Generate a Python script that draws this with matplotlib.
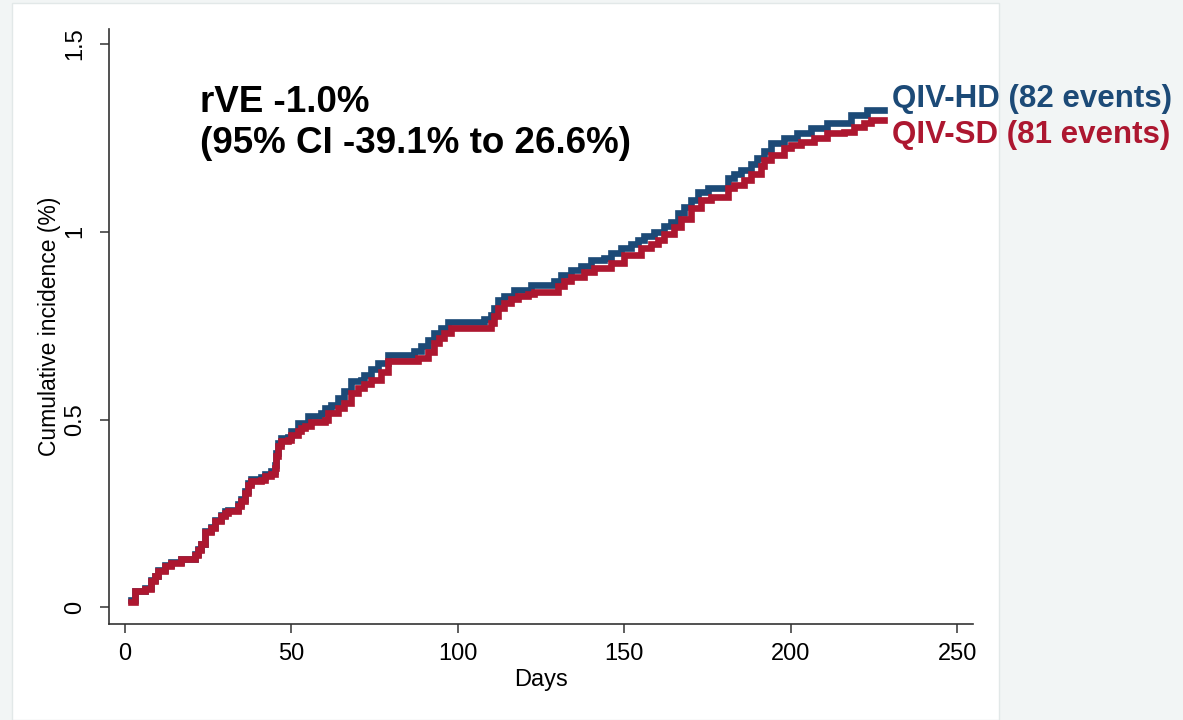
import matplotlib
matplotlib.use("Agg")
from matplotlib import pyplot as plt
from matplotlib.patches import Rectangle

plt.rcParams['font.family'] = ['Liberation Sans', 'DejaVu Sans']

# Cumulative incidence (%), step points per arm
hd_days = [2, 3, 6, 8, 9, 10, 12, 14, 17, 21, 22, 23, 24, 26, 27, 29, 30, 31, 34, 35,
           36, 37, 38, 41, 42, 44, 45, 45.5, 46, 47, 49, 50, 52, 55, 59, 60, 62, 64, 66, 68,
           71, 72, 74, 76, 79, 87, 89, 91, 93, 95, 97, 108, 110, 111, 112, 114, 117, 122, 129, 131,
           134, 137, 140, 144, 146, 149, 152, 154, 156, 159, 162, 164, 166, 168, 170, 172, 175, 181, 183, 185,
           188, 190, 192, 194, 198, 202, 206, 211, 218, 223, 228]
hd_vals = [0.020, 0.045, 0.052, 0.072, 0.085, 0.100, 0.112, 0.121, 0.130, 0.143,
           0.156, 0.170, 0.203, 0.215, 0.233, 0.246, 0.256, 0.260, 0.275, 0.288,
           0.310, 0.332, 0.342, 0.347, 0.356, 0.362, 0.380, 0.410, 0.437, 0.450,
           0.455, 0.470, 0.491, 0.509, 0.518, 0.531, 0.540, 0.557, 0.575, 0.602,
           0.606, 0.620, 0.635, 0.651, 0.673, 0.684, 0.695, 0.712, 0.730, 0.745,
           0.761, 0.768, 0.779, 0.797, 0.819, 0.828, 0.846, 0.859, 0.870, 0.885,
           0.899, 0.910, 0.925, 0.930, 0.943, 0.957, 0.968, 0.979, 0.990, 1.000,
           1.015, 1.027, 1.050, 1.065, 1.085, 1.107, 1.116, 1.143, 1.155, 1.165,
           1.180, 1.196, 1.215, 1.236, 1.249, 1.262, 1.276, 1.289, 1.310, 1.324,
           1.324]

sd_days = [2, 3, 6, 8, 9, 10, 12, 14, 17, 21, 22, 23, 24, 26, 27, 29, 30, 31, 34, 35,
           36, 37, 38, 41, 42, 44, 45, 45.5, 46, 47, 49, 50, 52, 53, 54, 56, 60, 61, 64, 66,
           68, 70, 72, 74, 77, 79, 88, 91, 93, 94.5, 96, 98, 110, 111, 112, 114, 116, 118, 121, 123,
           130, 132, 134, 138, 141, 146, 150, 155, 158, 160, 162, 165, 167, 170, 173, 176, 181, 183, 186, 188,
           191, 192, 194, 198, 200, 203, 207, 211, 216, 219, 222, 224, 228]
sd_vals = [0.015, 0.043, 0.050, 0.070, 0.083, 0.097, 0.110, 0.119, 0.128, 0.141,
           0.154, 0.168, 0.200, 0.212, 0.230, 0.243, 0.252, 0.256, 0.270, 0.283,
           0.305, 0.327, 0.336, 0.340, 0.349, 0.354, 0.372, 0.402, 0.429, 0.442,
           0.447, 0.460, 0.469, 0.478, 0.482, 0.495, 0.500, 0.518, 0.531, 0.544,
           0.571, 0.584, 0.595, 0.606, 0.628, 0.655, 0.664, 0.680, 0.703, 0.717,
           0.730, 0.744, 0.757, 0.775, 0.797, 0.810, 0.820, 0.828, 0.835, 0.841,
           0.855, 0.868, 0.881, 0.893, 0.904, 0.917, 0.939, 0.957, 0.968, 0.979,
           0.995, 1.014, 1.035, 1.064, 1.085, 1.094, 1.116, 1.125, 1.138, 1.155,
           1.174, 1.190, 1.205, 1.223, 1.230, 1.240, 1.249, 1.262, 1.267, 1.280,
           1.289, 1.298, 1.298]

hd_label = "QIV-HD (82 events)"
sd_label = "QIV-SD (81 events)"
rve_lines = ["rVE -1.0%", "(95% CI -39.1% to 26.6%)"]
x_ticks = [0, 50, 100, 150, 200, 250]
y_ticks = [0, 0.5, 1, 1.5]

blue = '#1c4a77'
red = '#ad1730'

fig = plt.figure(figsize=(11.83, 7.2), dpi=100, facecolor='#f2f5f5')
# white plot region like the original screenshot
fig.patches.append(Rectangle((12 / 1183, 0), 987 / 1183, 717 / 720, transform=fig.transFigure,
                             facecolor='white', edgecolor='#e2e8e8', lw=1, zorder=-10))

ax = fig.add_axes([109 / 1183, 1 - 624 / 720, 864 / 1183, 595 / 720])
ax.set_facecolor('none')

ax.plot(hd_days, hd_vals, drawstyle='steps-post', color=blue, lw=4.8, solid_joinstyle='miter')
ax.plot(sd_days, sd_vals, drawstyle='steps-post', color=red, lw=4.8, solid_joinstyle='miter')

ax.set_xlim(-4.7, 254.7)
ax.set_ylim(-0.044, 1.54)
ax.set_xticks(x_ticks)
ax.set_yticks(y_ticks)
ax.set_yticklabels(['0', '0.5', '1', '1.5'])

for side in ['top', 'right']:
    ax.spines[side].set_visible(False)
for side in ['left', 'bottom']:
    ax.spines[side].set_color('#333333')
    ax.spines[side].set_linewidth(1.2)

ax.tick_params(axis='both', direction='out', length=6.5, width=1.1, color='#333333', labelsize=17)
ax.tick_params(axis='x', pad=7)
ax.tick_params(axis='y', pad=10, labelrotation=90)
for lab in ax.get_yticklabels():
    lab.set_va('center')

ax.set_xlabel("Days", fontsize=17, labelpad=3)
ax.set_ylabel("Cumulative incidence (%)", fontsize=16.5, labelpad=2.5)

# curve labels at the end of each step line
ax.annotate(hd_label, xy=(hd_days[-1], hd_vals[-1]), xytext=(6, 2), textcoords='offset points',
            color=blue, fontsize=22.5, fontweight='bold', va='baseline', ha='left', annotation_clip=False)
ax.annotate(sd_label, xy=(sd_days[-1], sd_vals[-1]), xytext=(6, -16.5), textcoords='offset points',
            color=red, fontsize=22.5, fontweight='bold', va='baseline', ha='left', annotation_clip=False)

ax.text(91 / 864, (624 - 112) / 595, rve_lines[0], transform=ax.transAxes,
        fontsize=26.5, fontweight='bold', va='baseline', ha='left')
ax.text(91 / 864, (624 - 153) / 595, rve_lines[1], transform=ax.transAxes,
        fontsize=26.5, fontweight='bold', va='baseline', ha='left')

fig.savefig("out.png", dpi=100, facecolor=fig.get_facecolor())
